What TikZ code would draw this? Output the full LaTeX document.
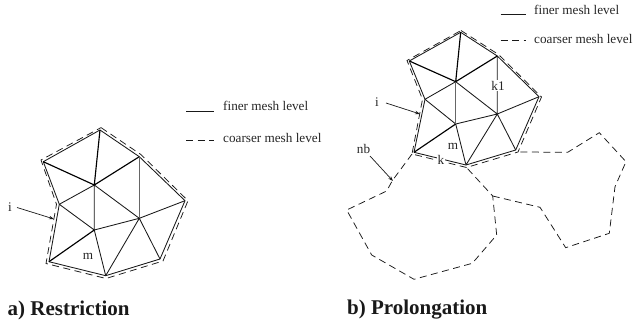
\documentclass[tikz,border=0pt]{standalone}
\usepackage{fontspec}
\setmainfont{Liberation Serif}
\usetikzlibrary{arrows.meta}
\tikzset{
  x=1pt,y=-1pt,
  mesh/.style={line width=0.85pt,line join=round,black!90},
  heavy/.style={line width=1.15pt,line join=round,black},
  soft/.style={line width=1.4pt,black!60},
  coarse/.style={line width=0.75pt,dash pattern=on 7pt off 4.5pt,black!90},
  lbl/.style={inner sep=0pt,font=\fontsize{13.2}{15}\selectfont,text=black!85},
  leg/.style={inner sep=0pt,anchor=west,font=\fontsize{13.2}{15}\selectfont,text=black!85},
  ttl/.style={inner sep=0pt,anchor=west,font=\fontsize{21}{24}\selectfont\bfseries,text=black!90},
  ptr/.style={line width=0.7pt,-{Stealth[length=5pt,width=3.5pt]},black!90}
}
\begin{document}
\begin{tikzpicture}
\useasboundingbox (0,0) rectangle (633,329);
% left mesh
\coordinate (la) at (100,130);
\coordinate (lb) at (43.3,161.7);
\coordinate (lc) at (139.3,156.7);
\coordinate (ld) at (185,200.7);
\coordinate (le) at (160,259);
\coordinate (lf) at (105.7,275.7);
\coordinate (lg) at (49,261.7);
\coordinate (lh) at (59.3,204.3);
\coordinate (lo) at (94.3,185);
\coordinate (lp) at (94.3,230);
\coordinate (lq) at (139.3,218.3);
\draw[mesh] (la)--(lc)--(ld)--(le)--(lf)--(lg)--(lh)--(lb)--cycle;
\draw[mesh] (lh)--(lo) (lo)--(lq) (lh)--(lp) (lo)--(lp) (lp)--(lq) (lp)--(lf) (lq)--(lf) (lq)--(le) (lq)--(ld);
\draw[heavy] (la)--(lo) (lb)--(lo) (lc)--(lo) (lg)--(lp);
\draw[soft] (lc)--(lq);
\coordinate (lda) at (101,127.6);
\coordinate (ldc) at (141,154.6);
\coordinate (ldd) at (188,200.7);
\coordinate (lde) at (163,261);
\coordinate (ldf) at (106,278.5);
\coordinate (ldg) at (46,263.5);
\coordinate (ldh) at (56.5,204.3);
\coordinate (ldb) at (41,160);
\draw[coarse] (lda)--(ldc)--(ldd)--(lde)--(ldf)--(ldg)--(ldh)--(ldb)--cycle;
% right mesh
\coordinate (ra) at (460.7,32.3);
\coordinate (rb) at (409.3,61);
\coordinate (rc) at (497.3,56);
\coordinate (rd) at (539,96.7);
\coordinate (re) at (515.7,150);
\coordinate (rf) at (466,165);
\coordinate (rg) at (414,152.3);
\coordinate (rh) at (425,99.3);
\coordinate (ro) at (455.7,81.7);
\coordinate (rp) at (455.7,124);
\coordinate (rq) at (497.3,114);
\draw[mesh] (ra)--(rc)--(rd)--(re)--(rf)--(rg)--(rh)--(rb)--cycle;
\draw[mesh] (rh)--(ro) (ro)--(rq) (rh)--(rp) (rp)--(rq) (rp)--(rf) (rq)--(rf) (rq)--(re) (rq)--(rd) (rc)--(rq);
\draw[heavy] (ra)--(ro) (rb)--(ro) (rc)--(ro) (rg)--(rp);
\draw[soft] (ro)--(rp);
\coordinate (rda) at (461,30.5);
\coordinate (rdc) at (498.5,54.5);
\coordinate (rdd) at (541.5,97);
\coordinate (rde) at (518,152);
\coordinate (rdf) at (466.5,167.5);
\coordinate (rdg) at (412,154);
\coordinate (rdh) at (422.5,99.3);
\coordinate (rdb) at (407,60.5);
\draw[coarse] (rda)--(rdc)--(rdd)--(rde)--(rdf)--(rdg)--(rdh)--(rdb)--cycle;
% neighbours
\coordinate (na) at (392.3,180.7);
\coordinate (nb) at (386.7,191);
\coordinate (nc) at (346.7,210);
\coordinate (nd) at (371.7,255);
\coordinate (ne) at (414,279.3);
\coordinate (nf) at (472.3,263.3);
\coordinate (ng) at (496.7,235);
\coordinate (nh) at (492.7,196);
\draw[coarse] (rdg)--(na)--(nb)--(nc)--(nd)--(ne)--(nf)--(ng)--(nh)--(rdf);
\coordinate (ma) at (540,207.3);
\coordinate (mb) at (565.7,247.7);
\coordinate (mc) at (609.3,233.3);
\coordinate (md) at (615,186.7);
\coordinate (me) at (626,161.7);
\coordinate (mf) at (599.3,132.7);
\coordinate (mg) at (567.7,152.3);
\draw[coarse] (nh)--(ma)--(mb)--(mc)--(md)--(me)--(mf)--(mg)--(rde);
% labels and pointers
\node[lbl] (ti) at (10,207) {i};
\coordinate (tia) at (54,219);
\draw[ptr] (17,207.5)--(tia);
\node[lbl] (tm) at (88,256) {m};
\node[lbl] (ri) at (377,102) {i};
\coordinate (ria) at (420,114);
\draw[ptr] (386,103)--(ria);
\node[lbl] (rnb) at (363.5,149) {nb};
\coordinate (nba) at (393,181);
\draw[ptr] (370,156)--(nba);
\node[lbl] (rm) at (453,146.5) {m};
\node[lbl,fill=white,inner sep=0.5pt] (rk) at (441,159.5) {k};
\node[lbl,fill=white,inner sep=0.5pt] (rk1) at (498,85.5) {k1};
% legend left
\coordinate (l1a) at (186,111); \coordinate (l1b) at (214,111);
\draw[mesh] (l1a)--(l1b);
\node[leg] (l1) at (223,106) {finer mesh level};
\coordinate (l2a) at (186,140); \coordinate (l2b) at (214,140);
\draw[coarse] (l2a)--(l2b);
\node[leg] (l2) at (223,138) {coarser mesh level};
% legend right
\coordinate (r1a) at (500.5,14); \coordinate (r1b) at (526,14);
\draw[mesh] (r1a)--(r1b);
\node[leg] (r1) at (534,10) {finer mesh level};
\coordinate (r2a) at (500.5,40); \coordinate (r2b) at (526,40);
\draw[coarse] (r2a)--(r2b);
\node[leg] (r2) at (534,38.5) {coarser mesh level};
% titles
\node[ttl] (ta) at (7.5,310) {a) Restriction};
\node[ttl] (tb) at (347,310) {b) Prolongation};
\end{tikzpicture}
\end{document}
